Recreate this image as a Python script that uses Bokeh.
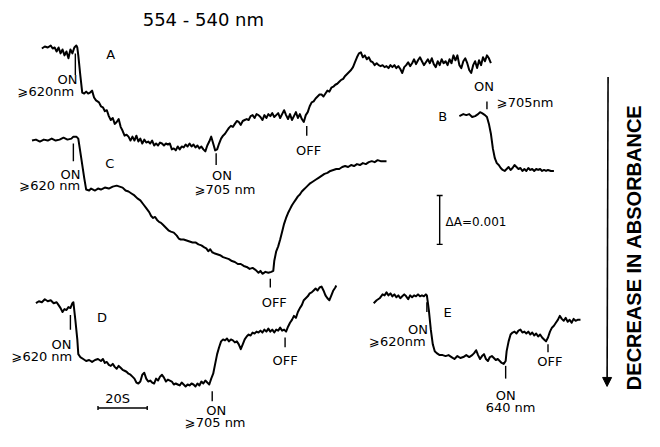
import math
from bokeh.plotting import figure
from bokeh.models import Range1d, Label, Arrow, NormalHead
from bokeh.core.properties import value
from bokeh.embed import file_html
from bokeh.resources import INLINE

# ---------------- data (picture-pixel units) ----------------
a_x = [46,49,52,55,57,59,61,63,65,67,69,71,73,75,77,79,81,82,83,85,87,89,91,93,95,97,99,101,104,106,108,110,112,114,116,118,120,122,124,126,128,130,132,134,136,138,140,142,144,146,148,150,152,154,156,158,160,162,164,166,168,170,172,174,176,178,180,182,184,186,188,190,192,194,196,198,200,202,204,206,208,210,212,214,216,218,220,222,224,226,228,230,232,234,236,238,240,242,244,246,248,250,252,254,256,258,260,262,264,266,268,270,272,274,276,278,280,282,284,286,288,290,292,294,296,298,300,302,304,306,308,310,312,314,316,318,320,322,324,326,328,330,332,334,336,338,340,342,344,346,348,350,352,354,356,358,360,362,364,366,368,370,372,374,376,378,380,382,384,386,388,390,392,394,396,398,400,402,404,406,408,410,412,414,416,418,420,422,424,426,428,430,432,434,436,438,440,442,444,446,448,450,452,454,456,458,460,462,464,466,468,470,472,474,476,478,480,482,484,486,488,490,492,494,496,498,500,502]
a_y = [53,51,52,50,53,52,56,52,58,54,60,56,63,54,58,52,50,52,60,80,98,99,97,99,98,96,103,106,108,112,113,117,116,122,126,124,130,128,125,133,137,142,141,143,147,143,147,142,148,145,150,146,149,148,150,147,152,150,152,149,150,152,150,151,150,156,155,157,153,156,153,154,151,153,150,153,151,154,152,155,153,156,158,152,148,143,150,157,156,150,145,142,140,137,134,132,133,130,127,128,131,127,126,125,126,122,121,124,120,121,123,126,121,124,120,122,119,123,121,119,124,120,116,121,125,120,126,122,118,124,120,125,128,121,118,112,108,107,104,102,100,100,102,99,96,97,93,92,90,89,87,85,84,81,79,77,75,72,67,62,58,57,62,60,64,62,66,67,70,68,70,71,70,72,71,73,70,72,70,73,71,74,78,72,70,67,71,68,64,69,65,62,66,70,67,64,68,63,69,72,66,70,64,68,66,70,64,68,60,65,60,70,73,66,63,68,75,78,70,66,73,65,70,62,66,60,63,68]

b_x = [470,474,477,480,483,486,489,491,493,496,498,500,502,504,506,508,510,512,514,516,518,520,522,524,526,528,530,532,534,536,538,540,542,544,546,548,550,552,554,556,558,560,563,566]
b_y = [122,120,121,120,123,122,120,118,119,121,123,130,140,155,165,170,172,175,177,178,176,174,177,175,172,174,176,175,178,176,178,175,177,176,178,176,177,176,178,177,178,177,178,178]

c_x = [36,40,44,48,52,56,60,64,68,72,76,78,81,83,86,89,91,94,96,98,100,103,106,110,114,118,122,125,128,131,134,137,140,143,146,149,152,155,157,159,161,163,165,167,169,171,173,175,177,180,183,185,187,190,193,196,199,202,205,208,211,213,215,217,219,221,224,227,230,233,236,239,242,245,248,251,254,257,260,263,266,268,270,273,276,279,281,282,284,286,288,290,292,294,296,298,300,302,304,306,308,310,312,314,316,318,321,324,327,330,333,336,339,342,345,348,351,354,357,360,363,366,369,372,375,378,381,384,387,390,393,396]
c_y = [147,146,148,146,147,145,147,146,144,146,145,143,143,145,165,185,197,198,196,197,198,196,197,195,196,194,193,194,195,198,199,201,203,206,208,212,216,220,224,226,225,228,230,231,233,235,237,239,240,241,244,247,248,248,249,250,251,251,253,254,256,257,260,258,261,262,263,264,266,267,268,270,271,273,273,275,276,278,277,279,282,280,283,281,282,281,280,270,260,255,248,240,232,226,221,217,213,210,207,204,202,199,197,195,193,191,189,187,185,183,181,180,178,177,176,176,174,173,174,172,173,171,172,170,171,169,168,169,167,168,168,168]

d_x = [40,43,46,49,52,55,58,61,63,65,67,69,71,73,75,77,78,80,82,83,85,88,91,94,97,100,103,106,108,110,112,114,116,118,120,122,124,126,128,130,132,134,136,138,140,142,144,146,148,150,152,154,156,158,160,162,164,166,168,170,172,174,176,178,180,182,184,186,188,190,192,194,196,198,200,202,204,206,208,210,212,214,216,218,220,222,224,226,228,230,232,234,236,238,240,242,244,246,248,250,252,254,256,258,260,262,264,266,268,270,272,274,276,278,280,282,284,286,288,290,292,294,296,298,300,302,304,306,308,310,312,314,316,318,320,322,324,326,328,330,332,334,336,338,340,342,344,345]
d_y = [313,311,312,309,311,310,313,312,315,318,322,319,320,317,318,313,312,330,350,365,368,370,372,371,373,371,370,372,370,374,373,376,377,375,378,380,377,379,381,382,383,385,386,388,390,394,395,393,386,384,390,393,392,394,395,390,392,388,386,389,393,391,392,393,396,395,396,397,394,396,398,396,397,395,396,398,395,397,393,395,392,394,396,390,385,375,365,358,352,350,351,349,352,350,351,353,352,355,360,355,350,347,345,346,343,344,342,343,341,343,340,342,339,342,340,343,340,341,338,341,340,342,337,333,330,326,328,322,318,315,310,308,306,303,302,300,298,300,297,296,300,305,308,310,305,300,297,295]

e_x = [383,386,389,392,394,396,398,400,402,404,406,408,410,412,414,416,418,420,422,424,426,428,430,432,434,436,437,439,441,443,445,447,450,453,456,459,462,465,468,471,474,477,480,483,485,487,489,491,493,495,497,499,501,503,505,507,509,511,513,515,517,518,520,522,524,526,528,530,532,534,536,538,540,542,544,546,548,550,552,554,556,558,560,562,564,566,568,570,572,574,576,578,580,582,584,586,588,590,593]
e_y = [313,310,308,304,305,302,305,303,306,304,307,305,308,306,304,306,309,305,307,305,306,304,306,305,306,304,305,320,340,355,362,364,366,366,367,366,368,370,367,369,368,366,368,366,364,361,366,370,367,365,370,372,368,367,369,371,370,372,374,375,372,362,352,345,343,342,344,341,340,343,342,344,342,345,343,346,344,347,345,348,350,352,348,342,338,336,333,330,326,329,331,328,332,330,333,329,331,330,330]

title_text = "554 - 540 nm"
side_text = "DECREASE    IN    ABSORBANCE"
delta_text = "ΔA=0.001"
time_text = "20S"

# marker ticks: (x, y_top, y_bottom)
tick_x = [80, 223, 315, 78, 278, 75, 219, 293, 437, 517, 560, 498]
tick_y0 = [58, 160, 132, 150, 288, 325, 403, 348, 312, 377, 355, 107]
tick_y1 = [80, 172, 142, 168, 297, 340, 413, 358, 322, 390, 363, 115]

# labels: text, x, y, align
lab_text = ["A", "ON", "⩾620nm", "ON", "⩾705 nm", "OFF",
            "C", "ON", "⩾620 nm", "OFF",
            "D", "ON", "⩾620 nm", "ON", "⩾705 nm", "OFF",
            "E", "ON", "⩾620nm", "ON", "640 nm", "OFF",
            "B", "ON", "⩾705nm"]
lab_x = [116, 72, 50, 229, 232, 317,
         115, 75, 54, 282,
         107, 66, 46, 223, 222, 293,
         458, 428, 407, 517, 522, 562,
         453, 495, 508]
lab_y = [59, 85, 97, 183, 197, 157,
         170, 182, 193, 312,
         328, 355, 367, 423, 435, 372,
         323, 340, 352, 407, 419, 373,
         122, 92, 108]
lab_align = ["center"] * 24 + ["left"]

FONT = "DejaVu Sans"

p = figure(width=644, height=431, output_backend="svg", toolbar_location=None,
           x_range=Range1d(4, 658), y_range=Range1d(444, 4), min_border=0)
p.axis.visible = False
p.grid.visible = False
p.outline_line_color = None
p.background_fill_color = "white"
p.border_fill_color = "white"

for xs, ys in [(a_x, a_y), (b_x, b_y), (c_x, c_y), (d_x, d_y), (e_x, e_y)]:
    p.line(xs, ys, line_color="black", line_width=2.0, line_join="round")

p.segment(x0=tick_x, y0=tick_y0, x1=tick_x, y1=tick_y1, line_color="black", line_width=1.4)

p.text(x=lab_x, y=lab_y, text=lab_text, text_align=lab_align, text_baseline="middle",
       text_font=value(FONT), text_font_size="13px", text_color="black")

p.add_layout(Label(x=210, y=23, text=title_text, text_align="center", text_baseline="middle",
                   text_font=FONT, text_font_size="18px", text_color="black"))

# delta A scale bar
p.segment(x0=[450, 447, 447], y0=[203, 203, 253], x1=[450, 453, 453], y1=[253, 203, 253],
          line_color="black", line_width=1.4)
p.add_layout(Label(x=456, y=230, text=delta_text, text_align="left", text_baseline="middle",
                   text_font=FONT, text_font_size="12px", text_color="black"))

# time scale bar
p.segment(x0=[103, 103, 153], y0=[420, 418, 418], x1=[153, 103, 153], y1=[420, 422, 422],
          line_color="black", line_width=1.4)
p.add_layout(Label(x=123, y=410, text=time_text, text_align="center", text_baseline="middle",
                   text_font=FONT, text_font_size="13px", text_color="black"))

# right-side arrow and text
p.add_layout(Arrow(end=NormalHead(size=9, fill_color="black", line_color="black"),
                   x_start=621, y_start=82, x_end=620, y_end=398,
                   line_color="black", line_width=1.6))
p.add_layout(Label(x=647, y=239, text=side_text, angle=math.pi / 2, text_align="center",
                   text_baseline="middle", text_font="Liberation Sans", text_font_style="bold",
                   text_font_size="20px", text_color="black"))

open("out.html", "w").write(file_html(p, INLINE))
